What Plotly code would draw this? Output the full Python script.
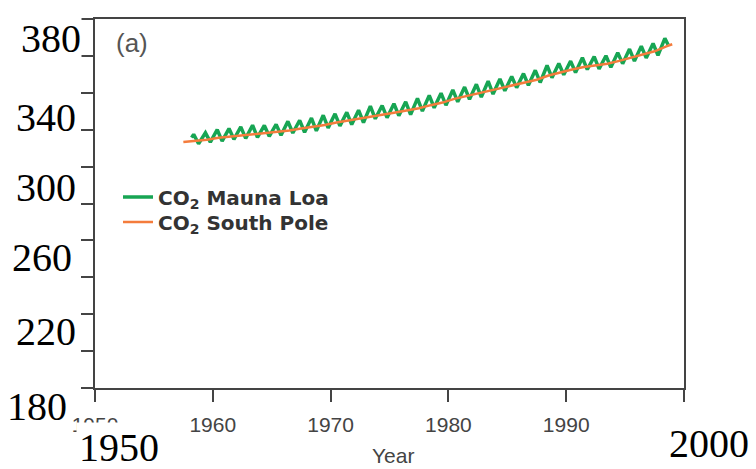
import plotly.graph_objects as go

# ---- data -------------------------------------------------------------
# Mauna Loa CO2 (ppm): seasonal maximum (May) and minimum (October) per year
ml_years = list(range(1958, 1999))
ml_may = [317.5, 318.3, 320.0, 320.6, 321.5, 322.4, 322.3, 322.9, 324.5, 325.1,
          326.3, 327.8, 328.6, 329.4, 330.6, 332.8, 333.1, 334.1, 335.1, 337.0,
          338.6, 339.8, 341.6, 343.1, 344.6, 346.3, 347.5, 348.9, 350.4, 352.2,
          354.8, 355.9, 357.2, 359.0, 359.6, 360.1, 361.7, 363.7, 365.3, 366.7,
          369.5]
ml_oct = [312.4, 313.3, 313.8, 314.8, 315.3, 315.8, 316.4, 317.0, 318.2, 318.6,
          319.4, 321.0, 322.1, 322.8, 323.9, 325.9, 326.5, 327.6, 328.2, 330.1,
          331.9, 333.3, 335.1, 336.5, 337.7, 339.3, 341.1, 342.8, 344.1, 345.6,
          348.2, 349.8, 351.0, 352.6, 353.0, 353.8, 355.8, 357.2, 358.9, 360.3]
ml_start = (1958.2, 315.7)
ml_end = (1998.65, 366.0)
PEAK_MONTH, TROUGH_MONTH = 5, 10

# South Pole CO2 (ppm), mid-year values
sp_years = list(range(1957, 1999))
sp_vals = [313.3, 313.9, 314.6, 315.6, 316.2, 317.0, 317.6, 318.2, 318.7, 319.6,
           320.6, 321.4, 322.6, 323.9, 324.9, 325.9, 327.3, 328.2, 329.3, 330.3,
           331.6, 333.3, 334.7, 336.7, 338.2, 339.6, 341.0, 342.6, 344.1, 345.6,
           347.1, 349.4, 351.1, 352.6, 354.0, 354.9, 355.8, 357.3, 359.1, 361.0,
           362.5, 365.2]
sp_end = (1999.0, 366.3)

# axis labels
x_ticks = [1950, 1960, 1970, 1980, 1990, 2000]
big_y_labels = [380, 340, 300, 260, 220, 180]
big_x_labels = [1950, 2000]
series_names = ["CO<sub>2</sub> Mauna Loa", "CO<sub>2</sub> South Pole"]

# ---- series assembly --------------------------------------------------
ml_x, ml_y = [ml_start[0]], [ml_start[1]]
for i, yr in enumerate(ml_years):
    ml_x.append(yr + (PEAK_MONTH - 0.5) / 12)
    ml_y.append(ml_may[i])
    if i < len(ml_oct):
        ml_x.append(yr + (TROUGH_MONTH - 0.5) / 12)
        ml_y.append(ml_oct[i])
ml_x.append(ml_end[0])
ml_y.append(ml_end[1])

sp_x = [yr + 0.5 for yr in sp_years] + [sp_end[0]]
sp_y = sp_vals + [sp_end[1]]

# ---- page geometry ----------------------------------------------------
W, H = 756, 469
ML, MR, MT, MB = 95, 72, 19, 81
PW, PH = W - ML - MR, H - MT - MB


def paper_x(px):
    return (px - ML) / PW


def paper_y(py):
    return (H - MB - py) / PH


GREEN = "#17a553"
ORANGE = "#f47c3c"
AXIS = "#444444"

fig = go.Figure()
fig.add_trace(go.Scatter(x=ml_x, y=ml_y, mode="lines", name=series_names[0],
                         legend="legend", line=dict(color=GREEN, width=3.5)))
fig.add_trace(go.Scatter(x=sp_x, y=sp_y, mode="lines", name=series_names[1],
                         legend="legend2", line=dict(color=ORANGE, width=2.5)))

LEGEND_FONT = dict(family="DejaVu Sans", size=20, color="#333333", weight="bold")


def legend_row(py):
    return dict(x=paper_x(118), y=paper_y(py), xanchor="left", yanchor="middle",
                bgcolor="rgba(0,0,0,0)", font=LEGEND_FONT, itemwidth=30)


fig.update_layout(
    width=W, height=H,
    margin=dict(l=ML, r=MR, t=MT, b=MB, pad=0),
    paper_bgcolor="white", plot_bgcolor="white",
    showlegend=True,
    legend=legend_row(197),
    legend2=legend_row(222),
    xaxis=dict(range=[1950, 2000], tickvals=x_ticks, ticks="outside", ticklen=12,
               tickwidth=2, tickcolor=AXIS, showline=True, linewidth=2, linecolor=AXIS,
               mirror=True, showgrid=False, zeroline=False, ticklabelstandoff=5,
               tickfont=dict(family="Liberation Sans", size=21, color="#444444")),
    yaxis=dict(range=[180, 380], dtick=20, tick0=180, ticks="outside", ticklen=12,
               tickwidth=2, tickcolor=AXIS, showline=True, linewidth=2, linecolor=AXIS,
               mirror=True, showgrid=False, zeroline=False, showticklabels=False),
)

BIG_FONT = dict(family="Liberation Serif", size=40, color="black")
annotations = []
# large value labels along the left side (right edge, vertical centre in pixels)
y_label_px = [(82, 39), (77, 117), (77, 187.5), (73, 257.5), (77, 331), (68, 406.5)]
for val, (px, py) in zip(big_y_labels, y_label_px):
    annotations.append(dict(text=str(val), x=paper_x(px), y=paper_y(py), xref="paper",
                            yref="paper", xanchor="right", yanchor="middle",
                            showarrow=False, bgcolor="white", borderpad=0, font=BIG_FONT))
# large year labels at the ends of the time axis
annotations.append(dict(text=str(big_x_labels[0]), x=paper_x(162), y=paper_y(447),
                        xref="paper", yref="paper", xanchor="right", yanchor="middle",
                        showarrow=False, bgcolor="white", borderpad=2, font=BIG_FONT))
annotations.append(dict(text="\u00a0" + str(big_x_labels[1]), x=paper_x(754),
                        y=paper_y(443.5), xref="paper", yref="paper", xanchor="right",
                        yanchor="middle", showarrow=False, bgcolor="white", borderpad=4,
                        font=BIG_FONT))
annotations.append(dict(text="Year", x=paper_x(393), y=paper_y(455), xref="paper",
                        yref="paper", xanchor="center", yanchor="middle", showarrow=False,
                        font=dict(family="Liberation Sans", size=21, color="#444444")))
annotations.append(dict(text="(a)", x=paper_x(131.5), y=paper_y(43.5), xref="paper",
                        yref="paper", xanchor="center", yanchor="middle", showarrow=False,
                        font=dict(family="Liberation Sans", size=26, color="#555555")))
fig.update_layout(annotations=annotations)

fig.write_html("out.html")
